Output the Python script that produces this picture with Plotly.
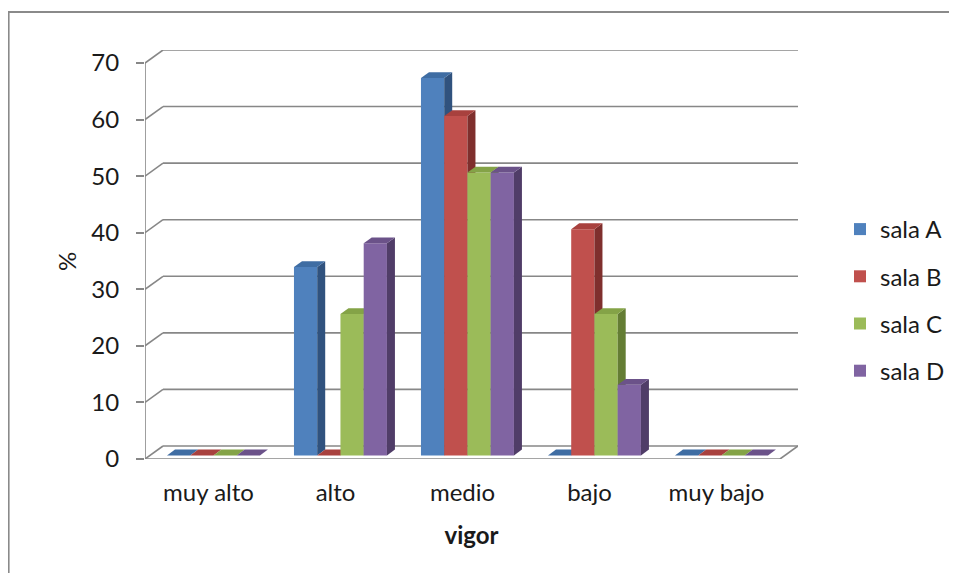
import plotly.graph_objects as go

# ---------------- data ----------------
categories = ["muy alto", "alto", "medio", "bajo", "muy bajo"]
series_names = ["sala A", "sala B", "sala C", "sala D"]
sala_A = [0, 33.3, 66.7, 0, 0]
sala_B = [0, 0, 60, 40, 0]
sala_C = [0, 25, 50, 25, 0]
sala_D = [0, 37.5, 50, 12.5, 0]
y_ticks = [0, 10, 20, 30, 40, 50, 60, 70]

series_values = [sala_A, sala_B, sala_C, sala_D]

# ---------------- style ----------------
front_colors = ["#4F81BD", "#C0504D", "#9BBB59", "#8064A2"]
top_colors = ["#3F6DA3", "#A8413E", "#84A347", "#6B5289"]
side_colors = ["#30527E", "#7F2F2D", "#647D34", "#503D68"]
GRID = "#878787"
FONT = "Lato"
FS = 24
TXT = "#1a1a1a"

OFF = 8                        # page body margin of the html page
W, H = 957 - OFF, 581 - 2 * OFF
# plot area in window pixels: left 145, right 798, top 50, bottom 459
ML = 145 - OFF
MR = W - (798 - OFF)
MT = 50 - OFF
MB = H - (459 - OFF)
DX, DY = 0.1417, 2.3          # depth of the 3-D box (data units)
SX, SY = 0.039, 0.63          # shift of bar front faces
BDX, BDY = 0.063, 1.03        # depth of the bars
BW = 0.183                    # bar width
n_cat = len(categories)
XR = [-0.5, n_cat - 0.5 + DX]
YR = [0, y_ticks[-1] + DY]
PW, PH = W - ML - MR, H - MT - MB


def px_to_paper_x(px):
    return (px - OFF - ML) / PW


def px_to_paper_y(py):
    return (H - MB - (py - OFF)) / PH


fig = go.Figure()
shapes = []

# frame (top and left edges visible in the window)
frame_line = dict(color="#8a8a8a", width=2)
shapes.append(dict(type="line", xref="paper", yref="paper",
                   x0=px_to_paper_x(8.6), x1=px_to_paper_x(1000),
                   y0=px_to_paper_y(12), y1=px_to_paper_y(12),
                   line=frame_line, layer="below"))
shapes.append(dict(type="line", xref="paper", yref="paper",
                   x0=px_to_paper_x(8.6), x1=px_to_paper_x(8.6),
                   y0=px_to_paper_y(11), y1=px_to_paper_y(700),
                   line=frame_line, layer="below"))

# back-wall gridlines and side-wall diagonals
x_left, x_right = XR[0], n_cat - 0.5
gl = dict(color=GRID, width=1.6)
for v in y_ticks:
    shapes.append(dict(type="line", xref="x", yref="y", x0=x_left, y0=v,
                       x1=x_left + DX, y1=v + DY, line=gl, layer="below"))
    shapes.append(dict(type="line", xref="x", yref="y", x0=x_left + DX, y0=v + DY,
                       x1=x_right + DX, y1=v + DY, line=gl, layer="below"))
# floor front edge and right edge
shapes.append(dict(type="line", xref="x", yref="y", x0=x_left, y0=0, x1=x_right, y1=0,
                   line=gl, layer="below"))
shapes.append(dict(type="line", xref="x", yref="y", x0=x_right, y0=0, x1=x_right + DX, y1=DY,
                   line=gl, layer="below"))
# vertical axis line
shapes.append(dict(type="line", xref="x", yref="y", x0=x_left, y0=0, x1=x_left, y1=y_ticks[-1],
                   line=gl, layer="below"))


def poly(xs, ys, color, xa, ya):
    return go.Scatter(x=xs + [xs[0]], y=ys + [ys[0]], mode="lines", fill="toself",
                      fillcolor=color, line=dict(width=0, color=color),
                      hoverinfo="skip", showlegend=False, xaxis=xa, yaxis=ya)


for j, (name, vals) in enumerate(zip(series_names, series_values)):
    xa = "x" if j == 0 else f"x{j + 1}"
    ya = "y" if j == 0 else f"y{j + 1}"
    xc = [i + (j - 1.5) * BW + SX for i in range(n_cat)]
    fig.add_trace(go.Bar(x=xc, y=vals, base=SY, width=BW, name=name,
                         marker=dict(color=front_colors[j], line=dict(width=0)),
                         legendgroup=name, xaxis=xa, yaxis=ya))
    for i, v in enumerate(vals):
        x0 = xc[i] - BW / 2
        x1 = xc[i] + BW / 2
        T = SY + v
        # side face
        if v > 0:
            fig.add_trace(poly([x1, x1 + BDX, x1 + BDX, x1],
                               [SY, SY + BDY, T + BDY, T], side_colors[j], xa, ya))
        # top face
        fig.add_trace(poly([x0, x1, x1 + BDX, x0 + BDX],
                           [T, T, T + BDY, T + BDY], top_colors[j], xa, ya))

layout = dict(
    width=W, height=H,
    margin=dict(l=ML, r=MR, t=MT, b=MB, pad=0, autoexpand=False),
    paper_bgcolor="white", plot_bgcolor="white",
    barmode="overlay",
    font=dict(family=FONT, size=FS, color=TXT),
    shapes=shapes,
    showlegend=True,
    legend=dict(xref="container", yref="container",
                x=(840 - OFF) / W, y=1 - (207 - OFF) / H, xanchor="left", yanchor="top",
                tracegroupgap=13, font=dict(size=FS, family=FONT, color=TXT),
                bgcolor="rgba(0,0,0,0)"),
    xaxis=dict(range=XR, showgrid=False, zeroline=False, showline=False,
               tickmode="array", tickvals=list(range(n_cat)), ticktext=categories,
               ticks="", ticklabelstandoff=17,
               title=dict(text="<b>vigor</b>", font=dict(size=FS, family=FONT, color=TXT), standoff=22)),
    yaxis=dict(range=YR, showgrid=False, zeroline=False, showline=False,
               tickmode="array", tickvals=y_ticks, ticks="outside", ticklen=8,
               tickcolor=GRID, tickwidth=1.6, ticklabelstandoff=12),
    annotations=[dict(text="%", xref="paper", yref="paper",
                      x=px_to_paper_x(67), y=px_to_paper_y(262), showarrow=False,
                      textangle=-90, font=dict(size=FS, family=FONT, color=TXT),
                      xanchor="center", yanchor="middle")],
)
for j in range(1, len(series_names)):
    layout[f"xaxis{j + 1}"] = dict(range=XR, overlaying="x", visible=False)
    layout[f"yaxis{j + 1}"] = dict(range=YR, overlaying="y", visible=False)

fig.update_layout(**layout)
fig.write_html("out.html")
